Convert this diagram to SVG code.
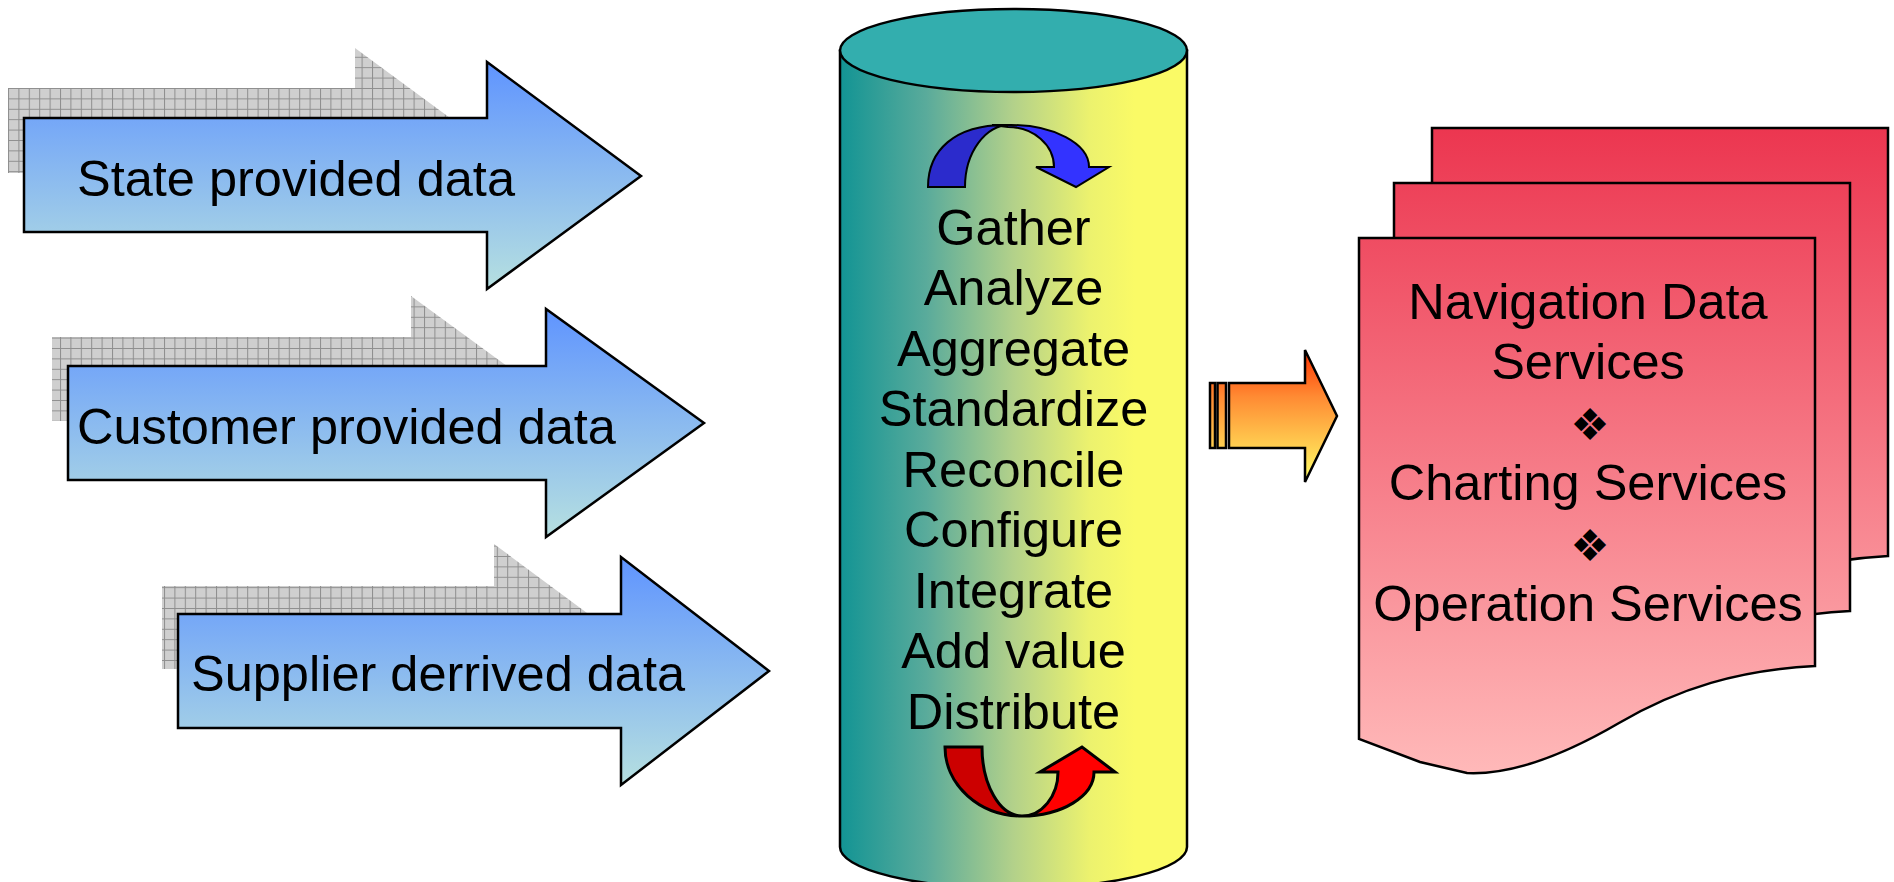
<svg xmlns="http://www.w3.org/2000/svg" width="1894" height="882" viewBox="0 0 1894 882">
  <defs>
    <!-- gray grid texture for the drop shadows behind the input arrows -->
    <pattern id="gridTex" x="8" y="88" width="10.4" height="10.4" patternUnits="userSpaceOnUse">
      <rect width="10.4" height="10.4" fill="#cfcfcf"/>
      <path d="M0,0.5 H10.4 M0.5,0 V10.4" stroke="#8e8e8e" stroke-width="1"/>
    </pattern>
    <linearGradient id="blueArrow" x1="0" y1="0" x2="0" y2="1">
      <stop offset="0" stop-color="#5f94ff"/>
      <stop offset="1" stop-color="#b6e0e0"/>
    </linearGradient>
    <linearGradient id="cylBody" x1="0" y1="0" x2="1" y2="0">
      <stop offset="0" stop-color="#129494"/>
      <stop offset="0.25" stop-color="#5aab9b"/>
      <stop offset="0.5" stop-color="#b3d18a"/>
      <stop offset="0.72" stop-color="#ecf26e"/>
      <stop offset="0.85" stop-color="#fafa66"/>
      <stop offset="1" stop-color="#fafa66"/>
    </linearGradient>
    <linearGradient id="orange" gradientUnits="userSpaceOnUse" x1="0" y1="350" x2="0" y2="482">
      <stop offset="0" stop-color="#ff3300"/>
      <stop offset="0.35" stop-color="#ff8a33"/>
      <stop offset="1" stop-color="#ffff66"/>
    </linearGradient>
    <linearGradient id="docFill" gradientUnits="userSpaceOnUse" x1="0" y1="128" x2="0" y2="773">
      <stop offset="0" stop-color="#ec3650"/>
      <stop offset="1" stop-color="#ffb9b9"/>
    </linearGradient>
    <style>
      .shadow { fill: url(#gridTex); }
      .inArrow { fill: url(#blueArrow); stroke: #000; stroke-width: 2.5; stroke-linejoin: miter; }
      .lbl { font-family: "Liberation Sans", Arial, sans-serif; font-size: 50.5px; fill: #000; }
      .mid { text-anchor: middle; }
      .dingbat { font-family: "DejaVu Sans", sans-serif; font-size: 44px; text-anchor: middle; fill: #000; }
      .edge { stroke: #000; stroke-width: 2.5; }
      .doc { fill: url(#docFill); stroke: #000; stroke-width: 2.5; }
    </style>
  </defs>

  <rect width="1894" height="882" fill="#ffffff"/>

  <!-- input arrow: state data -->
  <g id="state-data">
    <polygon class="shadow" points="8,88 355,88 355,48 480,140 480,173 8,173"/>
    <polygon class="inArrow" points="24,118 487,118 487,62 641,176 487,289 487,232 24,232"/>
    <text class="lbl" x="77" y="196">State provided data</text>
  </g>

  <!-- input arrow: customer data -->
  <g id="customer-data">
    <polygon class="shadow" points="52,337 411,337 411,296 540,390 540,421 52,421"/>
    <polygon class="inArrow" points="68,366 546,366 546,309 704,423 546,537 546,480 68,480"/>
    <text class="lbl" x="77" y="444">Customer provided data</text>
  </g>

  <!-- input arrow: supplier data -->
  <g id="supplier-data">
    <polygon class="shadow" points="162,586 494,586 494,544 610,630 610,669 162,669"/>
    <polygon class="inArrow" points="178,614 621,614 621,557 769,671 621,785 621,728 178,728"/>
    <text class="lbl" x="191" y="691">Supplier derrived data</text>
  </g>

  <!-- central data store -->
  <g id="data-store">
    <path d="M840,50.5 V847 A173.5,41.5 0 0 0 1187,847 V50.5 Z" fill="url(#cylBody)" class="edge"/>
    <ellipse cx="1013.5" cy="50.5" rx="173.5" ry="41.5" fill="#33aeae" class="edge"/>
    <!-- circular process arrow, top -->
    <path d="M928,187 C928,150 955,125 1005,125 L1010,125 A45,62 0 0 0 965,187 Z" fill="#2b2bcc" stroke="#000" stroke-width="2"/>
    <path d="M992,125 L1010,125 A78,42 0 0 1 1089,167 L1109,167 L1076,187 L1036,167 L1054,167 A46,40 0 0 0 1008,127 Z" fill="#3333ff" stroke="#000" stroke-width="2"/>
    <text class="lbl mid" x="1013.5" y="245">Gather</text>
    <text class="lbl mid" x="1013.5" y="305">Analyze</text>
    <text class="lbl mid" x="1013.5" y="366">Aggregate</text>
    <text class="lbl mid" x="1013.5" y="426">Standardize</text>
    <text class="lbl mid" x="1013.5" y="487">Reconcile</text>
    <text class="lbl mid" x="1013.5" y="547">Configure</text>
    <text class="lbl mid" x="1013.5" y="608">Integrate</text>
    <text class="lbl mid" x="1013.5" y="668">Add value</text>
    <text class="lbl mid" x="1013.5" y="729">Distribute</text>
    <!-- circular process arrow, bottom -->
    <path d="M945,747 A77,69 0 0 0 1022,816 A40,69 0 0 1 982,747 Z" fill="#cc0000" stroke="#000" stroke-width="3"/>
    <path d="M1022,816 A72,44 0 0 0 1094,772 L1115,772 L1082,747 L1040,772 L1058,772 A36,44 0 0 1 1022,816 Z" fill="#ff0000" stroke="#000" stroke-width="3"/>
  </g>

  <!-- flow from store to services -->
  <g id="connectors">
    <rect x="1210" y="383" width="5" height="65" fill="url(#orange)" class="edge"/>
    <rect x="1217.5" y="383" width="8.5" height="65" fill="url(#orange)" class="edge"/>
    <path d="M1229,383 H1305 V350 L1337,416 L1305,482 V448 H1229 Z" fill="url(#orange)" class="edge"/>
  </g>

  <!-- output services: stacked documents -->
  <g id="services">
    <path class="doc" d="M1432,128 H1888 V556 C1812,560 1752,578 1692,613 C1632,648 1582,665 1540,663 C1517,662 1492,654 1432,629 Z"/>
    <path class="doc" d="M1394,183 H1850 V611 C1774,615 1714,633 1654,668 C1594,703 1544,720 1502,718 C1479,717 1454,709 1394,684 Z"/>
    <path class="doc" d="M1359,238 H1815 V666 C1739,670 1679,688 1619,723 C1559,758 1509,775 1467,773 L1420,762 L1359,739 Z"/>
    <text class="lbl mid" x="1588" y="319">Navigation Data</text>
    <text class="lbl mid" x="1588" y="379">Services</text>
    <text class="dingbat" x="1590" y="440">❖</text>
    <text class="lbl mid" x="1588" y="500">Charting Services</text>
    <text class="dingbat" x="1590" y="561">❖</text>
    <text class="lbl mid" x="1588" y="621">Operation Services</text>
  </g>
</svg>
